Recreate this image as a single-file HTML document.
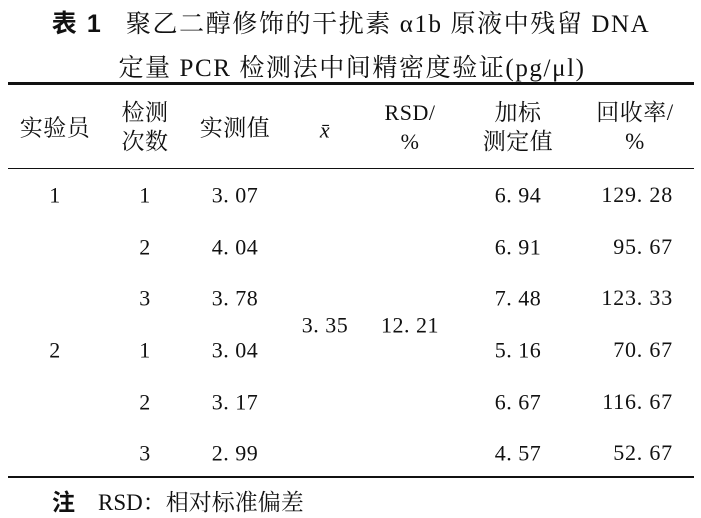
<!DOCTYPE html><html><head><meta charset="utf-8"><style>
body{margin:0;width:701px;height:518px;background:#fff;position:relative;overflow:hidden;font-family:"Liberation Serif","Noto Serif CJK SC",serif;color:#111}
.t{position:absolute;white-space:nowrap;transform:translate(-50%,-50%);font-size:22px;line-height:29px;text-align:center;letter-spacing:0.5px}
.c{font-size:23px}
.r{position:absolute;white-space:nowrap;transform:translate(-100%,-50%);font-size:22px;letter-spacing:0.8px}
.h{position:absolute;left:8px;width:686px;background:#111}
.ti{position:absolute;white-space:nowrap;transform:translate(-50%,-50%);font-size:25px;letter-spacing:1.6px;font-family:"Liberation Serif","Noto Serif CJK SC",serif}
</style></head><body>
<div class="ti" style="left:351px;top:22px"><b style="font-family:'Liberation Sans','Noto Sans CJK SC',sans-serif">表 1</b>&nbsp;&nbsp; 聚乙二醇修饰的干扰素 α1b 原液中残留 DNA</div>
<div class="ti" style="left:352px;top:66px">定量 PCR 检测法中间精密度验证(pg/μl)</div>
<div class="h" style="top:82px;height:3px"></div>
<div class="h" style="top:168px;height:1px"></div>
<div class="h" style="top:476px;height:2px"></div>
<div class="t c" style="left:55px;top:128px">实验员</div>
<div class="t c" style="left:145px;top:127px">检测<br>次数</div>
<div class="t c" style="left:235px;top:128px">实测值</div>
<div class="t" style="left:325px;top:130px;font-style:italic">x̄</div>
<div class="t" style="left:410px;top:127px">RSD/<br>%</div>
<div class="t c" style="left:518px;top:127px">加标<br>测定值</div>
<div class="t c" style="left:635px;top:127px">回收率/<br>%</div>
<div class="t" style="left:55px;top:195px">1</div>
<div class="t" style="left:55px;top:350px">2</div>
<div class="t" style="left:325px;top:325px">3. 35</div>
<div class="t" style="left:410px;top:325px">12. 21</div>
<div class="t" style="left:145px;top:195px">1</div><div class="t" style="left:235px;top:195px">3. 07</div><div class="t" style="left:518px;top:195px">6. 94</div><div class="r" style="left:673px;top:195px">129. 28</div>
<div class="t" style="left:145px;top:247px">2</div><div class="t" style="left:235px;top:247px">4. 04</div><div class="t" style="left:518px;top:247px">6. 91</div><div class="r" style="left:673px;top:247px">95. 67</div>
<div class="t" style="left:145px;top:298px">3</div><div class="t" style="left:235px;top:298px">3. 78</div><div class="t" style="left:518px;top:298px">7. 48</div><div class="r" style="left:673px;top:298px">123. 33</div>
<div class="t" style="left:145px;top:350px">1</div><div class="t" style="left:235px;top:350px">3. 04</div><div class="t" style="left:518px;top:350px">5. 16</div><div class="r" style="left:673px;top:350px">70. 67</div>
<div class="t" style="left:145px;top:402px">2</div><div class="t" style="left:235px;top:402px">3. 17</div><div class="t" style="left:518px;top:402px">6. 67</div><div class="r" style="left:673px;top:402px">116. 67</div>
<div class="t" style="left:145px;top:453px">3</div><div class="t" style="left:235px;top:453px">2. 99</div><div class="t" style="left:518px;top:453px">4. 57</div><div class="r" style="left:673px;top:453px">52. 67</div>
<div style="position:absolute;left:52px;top:483px;font-size:23px;white-space:nowrap"><b style="font-family:'Liberation Sans','Noto Sans CJK SC',sans-serif">注</b>&nbsp;&nbsp;&nbsp; RSD：相对标准偏差</div>
</body></html>
